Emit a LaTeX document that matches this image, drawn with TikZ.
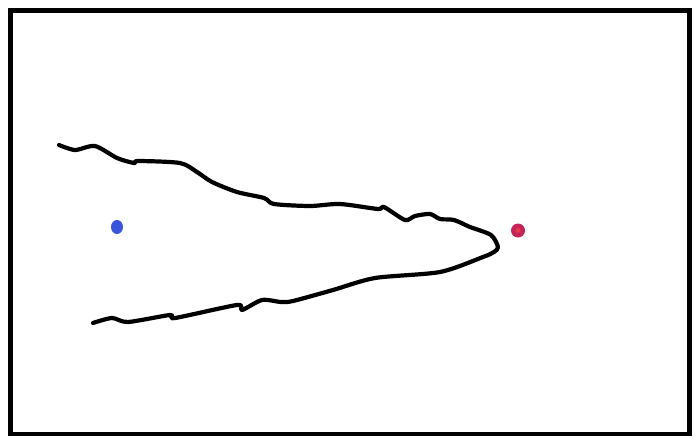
\documentclass[tikz,border=0pt]{standalone}
\usetikzlibrary{positioning}
\definecolor{dotblue}{RGB}{58, 84, 218}
\definecolor{dotred}{RGB}{196, 36, 88}
\definecolor{dotredcore}{RGB}{232, 56, 72}

\begin{document}
\begin{tikzpicture}[
    x=1pt, y=-1pt,
    sketch line/.style={line width=4.2pt, line cap=round, line join=round},
]
\useasboundingbox (0,0) rectangle (699,445);

% Frame
\draw[line width=4.5pt] (10.5,10.5) rectangle (689.5,434);

% Wedge outline (upper edge, tip, lower edge)
\draw[sketch line] plot[smooth, tension=0.45] coordinates {
    (59,145) (75,150) (95,146) (117,158) (134,163) (138,161) (180,163)
    (197,172) (212,182) (237,192) (264,198) (274,204) (310,206) (340,204)
    (378,209) (384,207) (405,220) (415,216) (430,214) (440,219) (454,220)
    (470,227) (491,235) (498,247) (494,252) (483,257) (440,272) (375,278)
    (333,290) (293,301) (281,302) (262,300) (242,310) (237,305) (175,318)
    (170,315) (128,322) (112,318) (93,323)
};

% Dots
\fill[dotblue] (117,227) ellipse (6pt and 7pt);
\fill[dotred] (518,230.5) circle (7pt);
\fill[dotredcore] (518,230.5) circle (2.5pt);

\end{tikzpicture}
\end{document}
